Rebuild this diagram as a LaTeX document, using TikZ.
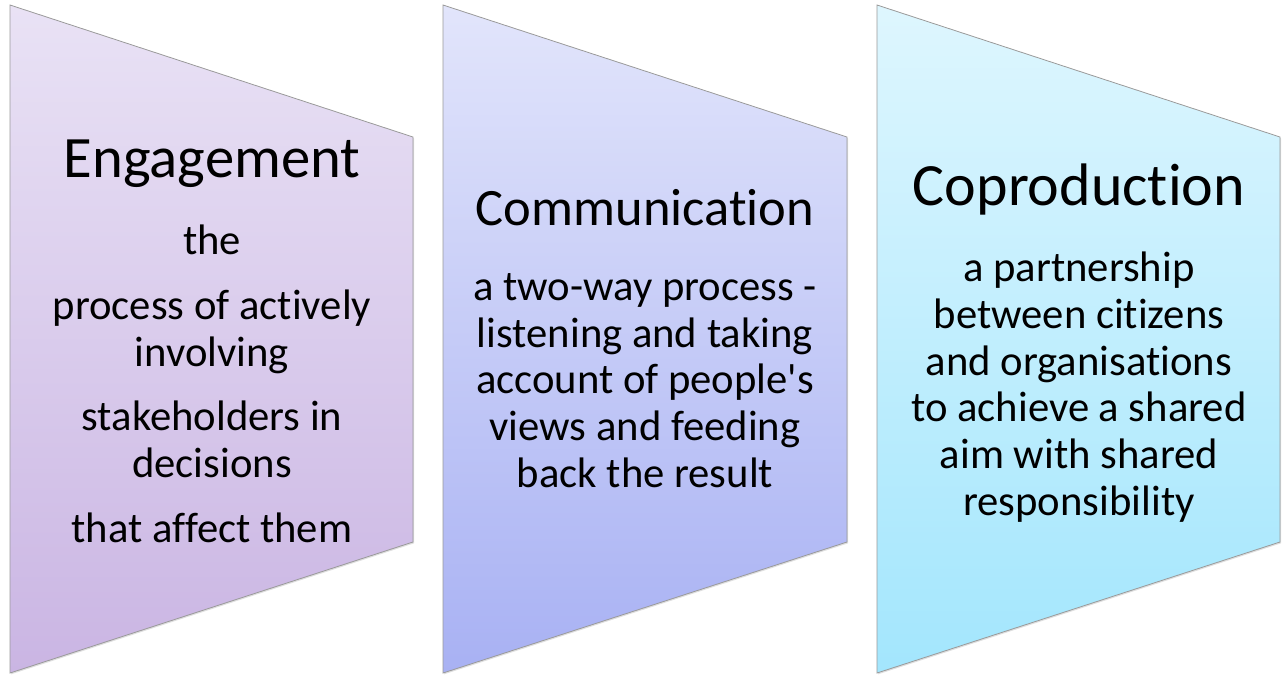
\documentclass[tikz,border=0pt]{standalone}
\usepackage{fontspec}
\newfontfamily\panelfont{Carlito}[Ligatures=NoCommon]
\usetikzlibrary{shadows}

\definecolor{engtop}{HTML}{E9E2F5}
\definecolor{engbot}{HTML}{CAB5E3}
\definecolor{comtop}{HTML}{E2E5FB}
\definecolor{combot}{HTML}{A8B1F3}
\definecolor{coptop}{HTML}{DEF6FE}
\definecolor{copbot}{HTML}{A3E6FD}
\definecolor{panelline}{HTML}{9A9A9A}

\begin{document}
\begin{tikzpicture}[x=0.75pt,y=-0.75pt,
    panel/.style={draw=panelline, line width=0.6pt,
        drop shadow={shadow xshift=0.8pt, shadow yshift=-1pt, opacity=0.25}},
    heading/.style={anchor=base, font=\panelfont\fontsize{#1}{#1}\selectfont},
    body/.style={anchor=base, align=center, font=\panelfont\fontsize{32}{35}\selectfont}]

    \useasboundingbox (0,0) rectangle (1283,676);

    % Paneles
    \shade[panel, top color=engtop, bottom color=engbot]
        (10,5) -- (413,137) -- (413,542) -- (10,673) -- cycle;
    \shade[panel, top color=comtop, bottom color=combot]
        (443,5) -- (847,137) -- (847,542) -- (443,673) -- cycle;
    \shade[panel, top color=coptop, bottom color=copbot]
        (877,5) -- (1280,137) -- (1280,542) -- (877,673) -- cycle;

    % Títulos
    \node[heading=44] (engtitle) at (212,177) {Engagement};
    \node[heading=39.4] (comtitle) at (645,225) {Communication};
    \node[heading=45] (coptitle) at (1079,205) {Coproduction};

    % Textos (anclados en la última línea)
    \node[body] (engtext) at (212,542) {the\\[13.5pt]
        process of actively\\ involving\\[13.5pt]
        stakeholders in\\ decisions\\[13.5pt]
        that affect them};
    \node[body] (comtext) at (645,487) {a two-way process -\\
        listening and taking\\ account of people's\\
        views and feeding\\ back the result};
    \node[body] (coptext) at (1079,515) {a partnership\\
        between citizens\\ and organisations\\
        to achieve a shared\\ aim with shared\\ responsibility};
\end{tikzpicture}
\end{document}
